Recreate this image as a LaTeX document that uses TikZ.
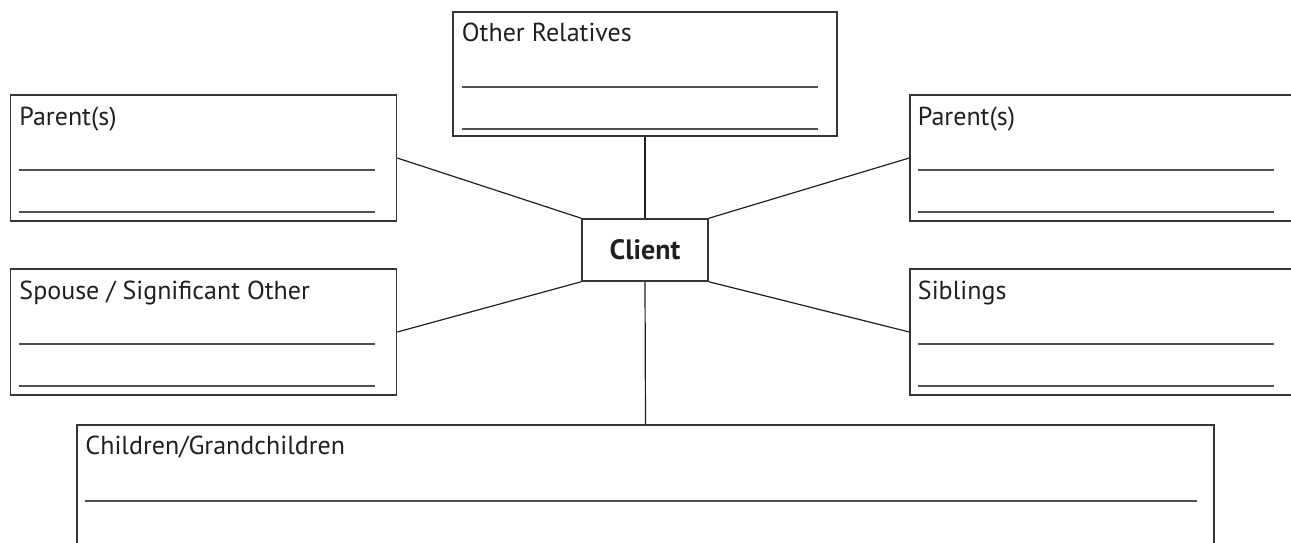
\documentclass[tikz,border=0pt]{standalone}
\usepackage{fontspec}
\setmainfont{PT Sans}
\usetikzlibrary{calc}
\definecolor{ink}{HTML}{231F20}
\definecolor{rule}{HTML}{505050}
\begin{document}
\begin{tikzpicture}[x=1pt,y=-1pt,
  box/.style={draw=ink!90,line width=1.5pt,rectangle,inner sep=0pt,minimum width=386pt,minimum height=126pt},
  lbl/.style={anchor=base west,inner sep=0pt,text=ink,font=\fontsize{26}{30}\selectfont},
  fill in/.style={draw=rule,line width=2pt},
  link/.style={draw=ink,line width=1.2pt}]
\useasboundingbox[fill=white] (0,0) rectangle (1291,542);
% boxes
\node[box] (lp) at (203.5,158) {};
\node[box] (rp) at (1103,158) {};
\node[box,minimum width=384pt,minimum height=124pt] (or) at (645,74) {};
\node[box,minimum width=126pt,minimum height=62pt] (cl) at (645,250) {};
\node[box] (sp) at (203.5,332) {};
\node[box] (sib) at (1103,332) {};
\node[box,minimum width=1137pt,minimum height=140pt] (ch) at (645.5,495) {};
% client label
\node[inner sep=0pt,text=ink,font=\fontsize{28}{32}\selectfont\bfseries] (cltxt) at (cl) {Client};
% labels
\node[lbl] (lpt) at ($(lp.north west)+(9.5,31.5)$) {Parent(s)};
\node[lbl] (rpt) at ($(rp.north west)+(8.5,31.5)$) {Parent(s)};
\node[lbl] (ort) at ($(or.north west)+(9.5,30)$) {Other Relatives};
\node[lbl] (spt) at ($(sp.north west)+(9.5,31)$) {Spouse / Significant Other};
\node[lbl] (sibt) at ($(sib.north west)+(8.5,31)$) {Siblings};
\node[lbl] (cht) at ($(ch.north west)+(9,30)$) {Children/Grandchildren};
% fill-in lines
\foreach \b/\dx in {lp/9.5,rp/8.5,or/9.5,sp/9.5,sib/8.5}{
  \draw[fill in] ($(\b.north west)+(\dx,76)$) -- ++(356,0);
  \draw[fill in] ($(\b.north west)+(\dx,118)$) -- ++(356,0);
}
\draw[fill in] ($(ch.north west)+(9,77)$) -- ($(ch.north east)+(-17.5,77)$);
% connectors
\draw[link] (lp.east) -- (cl.north west);
\draw[link] (rp.west) -- (cl.north east);
\draw[link] (sp.east) -- (cl.south west);
\draw[link] (sib.west) -- (cl.south east);
\draw[link] (or.south) -- (cl.north);
\draw[link] (cl.south) -- (ch.north);
\end{tikzpicture}
\end{document}
